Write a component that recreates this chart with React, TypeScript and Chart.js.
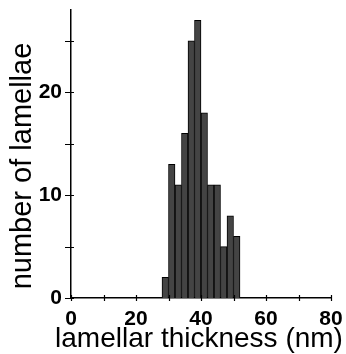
import React, { useEffect, useRef } from 'react';
import { Chart, registerables } from 'chart.js';
Chart.register(...registerables);

const binStarts = [28, 30, 32, 34, 36, 38, 40, 42, 44, 46, 48, 50];
const counts = [2, 13, 11, 16, 25, 27, 18, 11, 11, 5, 8, 6];
const binWidth = 2;
const xLabeled = [0, 20, 40, 60, 80];
const yLabeled = [0, 10, 20];
const xTitle = 'lamellar thickness (nm)';
const yTitle = 'number of lamellae';

const axisDecor = {
  id: 'axisDecor',
  afterDraw(chart: any) {
    const ctx = chart.ctx as CanvasRenderingContext2D;
    const xs = chart.scales.x;
    const ys = chart.scales.y;
    const area = chart.chartArea;
    ctx.save();
    ctx.strokeStyle = '#000';
    ctx.lineWidth = 1.2;
    ctx.beginPath();
    xs.ticks.forEach((t: any) => {
      const px = Math.round(xs.getPixelForValue(t.value)) + 0.5;
      ctx.moveTo(px, area.bottom - 3);
      ctx.lineTo(px, area.bottom + 3);
    });
    ys.ticks.forEach((t: any) => {
      const py = Math.round(ys.getPixelForValue(t.value)) + 0.5;
      ctx.moveTo(area.left - 6, py);
      ctx.lineTo(area.left + 3, py);
    });
    ctx.stroke();
    ctx.fillStyle = '#000';
    ctx.textAlign = 'center';
    ctx.textBaseline = 'alphabetic';
    ctx.font = '28px "Liberation Sans", Arial, sans-serif';
    ctx.fillText(xTitle, 199, 347);
    ctx.translate(31, 166);
    ctx.rotate(-Math.PI / 2);
    ctx.font = '29px "Liberation Sans", Arial, sans-serif';
    ctx.fillText(yTitle, 0, 0);
    ctx.restore();
  },
};

export default function App() {
  const ref = useRef<HTMLCanvasElement>(null);
  useEffect(() => {
    const data = binStarts.map((s, i) => ({ x: s + binWidth / 2, y: counts[i] }));
    const chart = new Chart(ref.current!, {
      type: 'bar',
      data: {
        datasets: [
          {
            data: data as any,
            backgroundColor: '#444444',
            borderColor: '#000000',
            borderWidth: 1,
            barPercentage: 1,
            categoryPercentage: 1,
          },
        ],
      },
      options: {
        animation: false,
        responsive: true,
        maintainAspectRatio: false,
        layout: { padding: { left: 0, right: 15, top: 10, bottom: 0 } },
        plugins: { legend: { display: false }, tooltip: { enabled: false } },
        scales: {
          x: {
            type: 'linear',
            min: 0,
            max: 80,
            offset: false,
            afterFit: (s: any) => {
              s.height = 56;
              s.paddingLeft = 0;
              s.paddingRight = 0;
            },
            grid: { display: false, drawTicks: false, tickLength: 0 },
            border: { display: true, color: '#000', width: 1.5 },
            ticks: {
              stepSize: 10,
              autoSkip: false,
              maxRotation: 0,
              padding: 11,
              color: '#000',
              font: { family: 'Liberation Sans', size: 21, weight: 'bold', lineHeight: 1 },
              callback: (v: any) => (xLabeled.includes(v) ? String(v) : ''),
            },
            title: { display: false },
          },
          y: {
            min: 0,
            max: 28,
            afterFit: (s: any) => {
              s.width = 71;
              s.paddingTop = 0;
              s.paddingBottom = 0;
            },
            grid: { display: false, drawTicks: false, tickLength: 0 },
            border: { display: true, color: '#000', width: 1.5 },
            ticks: {
              stepSize: 5,
              includeBounds: false,
              autoSkip: false,
              padding: 9,
              color: '#000',
              font: { family: 'Liberation Sans', size: 21, weight: 'bold', lineHeight: 1 },
              callback: (v: any) => (yLabeled.includes(v) ? String(v) : ''),
            },
            title: { display: false },
          },
        },
      } as any,
      plugins: [axisDecor],
    });
    return () => chart.destroy();
  }, []);
  return (
    <div style={{ position: 'fixed', left: 0, top: 0, width: 346, height: 354, background: '#fff' }}>
      <canvas ref={ref} />
    </div>
  );
}
